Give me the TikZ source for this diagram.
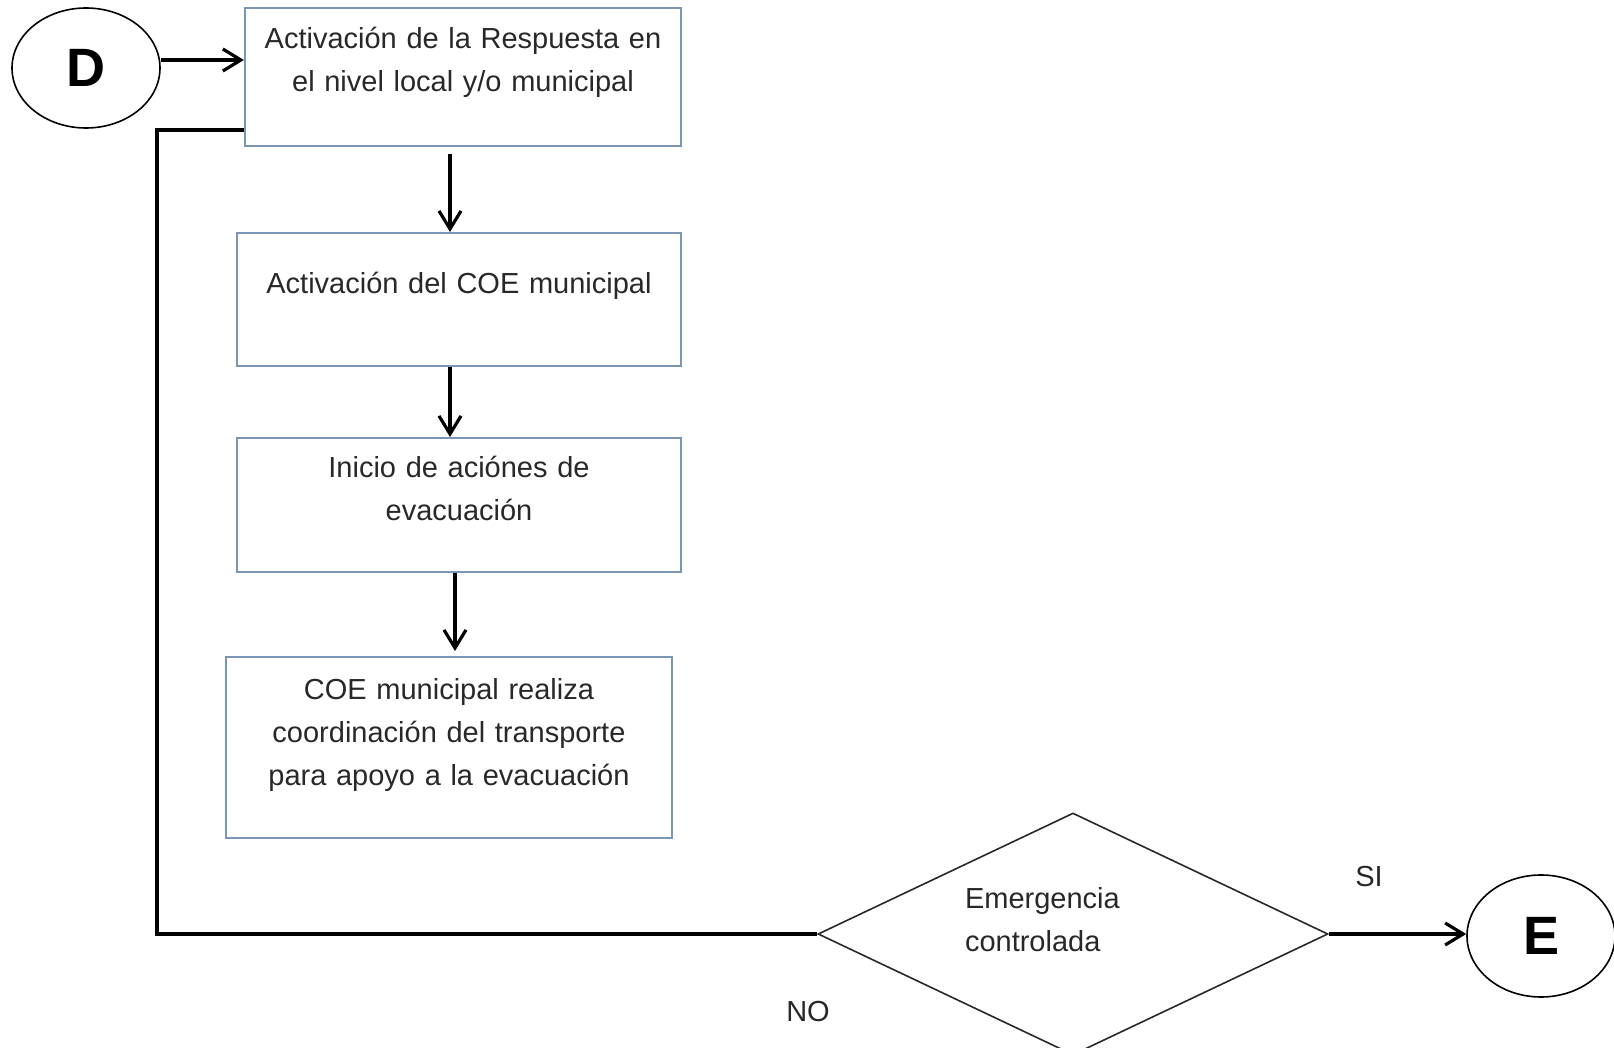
\documentclass[tikz,border=0pt]{standalone}
\usepackage{fontspec}
\setmainfont{Liberation Sans}
\usetikzlibrary{arrows,shapes,positioning,fit,arrows.meta,backgrounds,calc}
\definecolor{boxedge}{RGB}{122,150,180}
\definecolor{inkgrey}{RGB}{40,40,40}

\begin{document}
\begin{tikzpicture}[x=0.5pt, y=-0.5pt,
    stage/.style={draw=boxedge, line width=1.1pt, anchor=north, align=center,
        inner sep=0pt, text=inkgrey, font=\fontsize{14.5}{21.5}\selectfont},
    terminal/.style={draw=black, line width=0.8pt, ellipse, minimum width=74pt,
        inner sep=0pt, font=\fontsize{27}{30}\selectfont\bfseries},
    decision/.style={draw=inkgrey, line width=0.8pt, diamond, shape aspect=2.1,
        minimum width=255pt, minimum height=121pt, inner sep=0pt, align=left,
        text=inkgrey, font=\fontsize{14.5}{21.5}\selectfont},
    tag/.style={text=inkgrey, font=\fontsize{14.5}{21.5}\selectfont},
    flow/.style={-{Straight Barb[length=9pt,width=11pt]}, line width=1.6pt},
    backline/.style={line width=1.6pt}]

    % Page frame
    \clip (0,0) rectangle (1614,1048);

    % Connectors in and out
    \node[terminal, minimum height=60pt] (D) at (86,68) {D};
    \node[terminal, minimum height=61pt] (E) at (1541,936) {E};

    % Steps of the response
    \node[stage, text width=218pt, text height=20pt, text depth=49pt] (act) at (463,7)
        {Activación de la Respuesta en\\el nivel local y/o municipal};
    \node[stage, text width=222pt, text height=30pt, text depth=36.5pt] (coe) at (459,232)
        {Activación del COE municipal};
    \node[stage, text width=222pt, text height=19.5pt, text depth=47.5pt] (evac) at (459,437)
        {Inicio de aciónes de\\evacuación};
    \node[stage, text width=223pt, text height=21pt, text depth=69.5pt] (trans) at (449,656)
        {COE municipal realiza\\coordinación del transporte\\para apoyo a la evacuación};

    % Decision
    \node[decision, text width=108pt, text height=10.5pt, text depth=36.5pt] (ctrl) at (1073,934)
        {Emergencia\\controlada};
    \node[tag] (si) at (1369,877) {SI};
    \node[tag] (no) at (808,1012) {NO};

    % Arrows down the column
    \draw[flow] ([yshift=4pt]D.east) -- ([yshift=4pt]D.east -| act.west);
    \draw[flow, shorten <=3.5pt] ([xshift=-6.5pt]act.south) -- ([xshift=-6.5pt]act.south |- coe.north);
    \draw[flow] ([xshift=-4.5pt]coe.south) -- ([xshift=-4.5pt]coe.south |- evac.north);
    \draw[flow, shorten >=2.5pt] ([xshift=-2pt]evac.south) -- ([xshift=-2pt]evac.south |- trans.north);

    % Answer NO goes back, SI goes on
    \coordinate (back) at (157,130);
    \draw[backline] (ctrl.west) -| (back) -- (back -| act.west);
    \draw[flow] (ctrl.east) -- (ctrl.east -| E.west);
\end{tikzpicture}
\end{document}
